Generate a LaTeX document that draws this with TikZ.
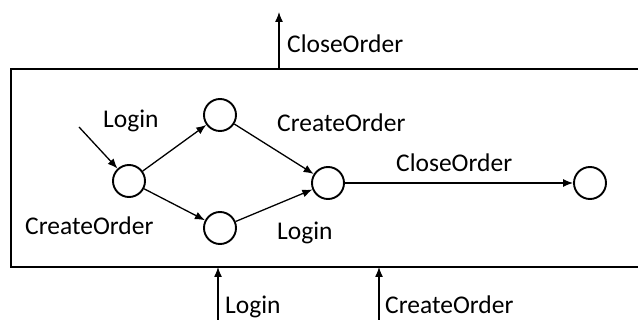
\documentclass[tikz,border=0pt]{standalone}
\usepackage{fontspec}
\setmainfont{Carlito}
\usetikzlibrary{arrows.meta}
\begin{document}
\begin{tikzpicture}[x=1pt,y=-1pt,
  state/.style={circle,draw,line width=1.9pt,minimum size=32pt,inner sep=0pt},
  arr/.style={line width=1.3pt,-{Latex[length=10pt,width=8pt]}},
  lbl/.style={anchor=base west,inner sep=0pt,font=\fontsize{25.5}{30}\selectfont}]
\useasboundingbox (0,0) rectangle (638,320);
\fill[white] (0,0) rectangle (638,320);
% frame (open to the right)
\coordinate (fr1) at (645,69);
\coordinate (fr2) at (11,69);
\coordinate (fr3) at (11,267);
\coordinate (fr4) at (645,267);
\draw[line width=2pt] (fr1) -- (fr2) -- (fr3) -- (fr4);
% states
\node[state] (s1) at (129,181) {};
\node[state] (s2) at (220,115) {};
\node[state] (s3) at (220,228) {};
\node[state] (s4) at (328,183) {};
\node[state] (s5) at (590,183) {};
\coordinate (in) at (79,127);
\draw[arr] (in) -- (s1);
\draw[arr] (s1) -- (s2);
\draw[arr] (s1) -- (s3);
\draw[arr] (s2) -- (s4);
\draw[arr] (s3) -- (s4);
\draw[arr] (s4) -- (s5);
% labels inside
\node[lbl] (l1) at (103,128) {Login};
\node[lbl] (l2) at (25,235) {CreateOrder};
\node[lbl] (l3) at (277,132) {CreateOrder};
\node[lbl] (l4) at (277,240) {Login};
\node[lbl] (l5) at (396,172) {CloseOrder};
% external arrows
\coordinate (tA) at (279,69);
\coordinate (tB) at (279,12);
\draw[arr] (tA) -- (tB);
\node[lbl] (lt) at (287,53) {CloseOrder};
\coordinate (bA) at (218,321);
\coordinate (bB) at (218,267);
\draw[arr] (bA) -- (bB);
\node[lbl] (lb1) at (225,314) {Login};
\coordinate (cA) at (379,321);
\coordinate (cB) at (379,267);
\draw[arr] (cA) -- (cB);
\node[lbl] (lb2) at (385,314) {CreateOrder};
\end{tikzpicture}
\end{document}
